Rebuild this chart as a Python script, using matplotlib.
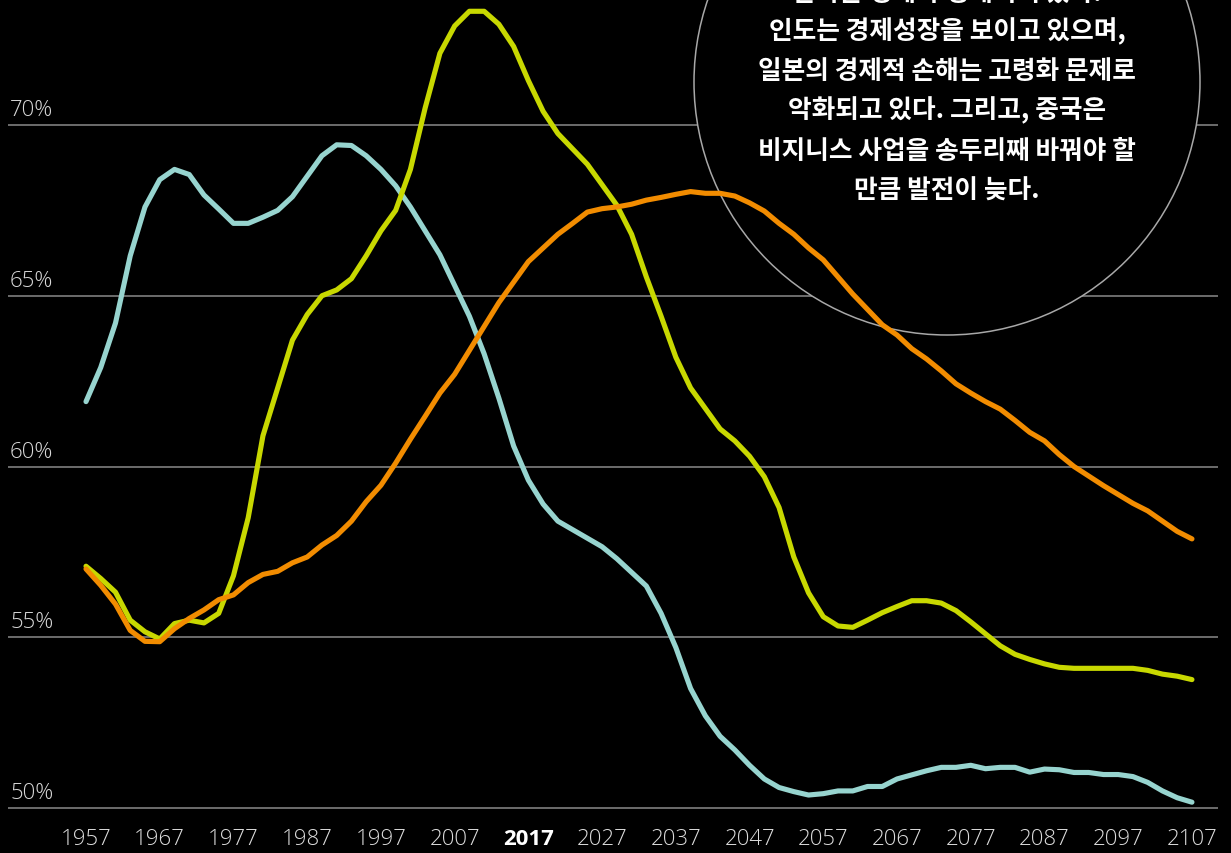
import matplotlib
matplotlib.use("Agg")
import matplotlib.pyplot as plt
from matplotlib.patches import Ellipse
import numpy as np

years = list(range(1957, 2108, 2))

japan = [61.9, 62.9, 64.2, 66.17, 67.6, 68.4, 68.7, 68.55, 67.95, 67.54,
         67.12, 67.12, 67.3, 67.5, 67.9, 68.5, 69.1, 69.42, 69.4, 69.1,
         68.7, 68.22, 67.6, 66.9, 66.2, 65.3, 64.4, 63.3, 62.0, 60.6,
         59.6, 58.9, 58.4, 58.15, 57.9, 57.65, 57.3, 56.9, 56.5, 55.7,
         54.7, 53.5, 52.7, 52.1, 51.7, 51.25, 50.85, 50.6, 50.48, 50.38,
         50.42, 50.5, 50.5, 50.63, 50.63, 50.85, 50.97, 51.09, 51.19, 51.19,
         51.25, 51.15, 51.19, 51.19, 51.05, 51.14, 51.12, 51.04, 51.04, 50.98,
         50.98, 50.92, 50.75, 50.5, 50.3, 50.17]

china = [57.08, 56.72, 56.32, 55.5, 55.16, 54.95, 55.4, 55.5, 55.42, 55.7,
         56.8, 58.5, 60.9, 62.3, 63.7, 64.45, 65.0, 65.17, 65.5, 66.17,
         66.9, 67.5, 68.7, 70.5, 72.1, 72.9, 73.33, 73.33, 72.95, 72.3,
         71.3, 70.4, 69.75, 69.3, 68.85, 68.25, 67.65, 66.8, 65.55, 64.4,
         63.2, 62.3, 61.7, 61.1, 60.75, 60.3, 59.7, 58.8, 57.35, 56.3,
         55.6, 55.33, 55.29, 55.5, 55.72, 55.9, 56.07, 56.07, 56.0, 55.78,
         55.45, 55.1, 54.75, 54.5, 54.35, 54.22, 54.12, 54.09, 54.09, 54.09,
         54.09, 54.09, 54.03, 53.92, 53.86, 53.76]

india = [57.0, 56.52, 55.97, 55.2, 54.88, 54.87, 55.25, 55.55, 55.8, 56.1,
         56.24, 56.6, 56.84, 56.93, 57.18, 57.35, 57.7, 57.98, 58.4, 58.97,
         59.45, 60.1, 60.8, 61.47, 62.15, 62.7, 63.4, 64.1, 64.8, 65.4,
         66.0, 66.4, 66.8, 67.12, 67.45, 67.55, 67.6, 67.68, 67.8, 67.88,
         67.97, 68.05, 68.0, 68.0, 67.92, 67.72, 67.48, 67.12, 66.8, 66.4,
         66.05, 65.55, 65.05, 64.6, 64.15, 63.85, 63.45, 63.15, 62.8, 62.42,
         62.15, 61.9, 61.68, 61.35, 61.0, 60.75, 60.35, 60.0, 59.72, 59.44,
         59.18, 58.92, 58.7, 58.4, 58.1, 57.88]

y_ticks = [50, 55, 60, 65, 70]
y_tick_labels = ["50%", "55%", "60%", "65%", "70%"]
x_ticks = list(range(1957, 2108, 10))
x_tick_labels = [str(y) for y in x_ticks]
highlight_year = 2017

note_lines = [
    "한국은 경제가 정체되어 있다.",
    "인도는 경제성장을 보이고 있으며,",
    "일본의 경제적 손해는 고령화 문제로",
    "악화되고 있다. 그리고, 중국은",
    "비지니스 사업을 송두리째 바꿔야 할",
    "만큼 발전이 늦다.",
]

W, H = 1231, 854
fig = plt.figure(figsize=(W / 100, H / 100), dpi=100, facecolor="black")
ax = fig.add_axes([8 / W, 0, 1210 / W, 1])
ax.set_facecolor("black")
ax.axis("off")

# pixel mapping helpers
px_per_year = 7.373
px_per_pct = 34.15
x0 = 1957 - 78 / px_per_year
x1 = 1957 + 1132 / px_per_year
ytop = 50 + 809 / px_per_pct
ybot = 50 - 45 / px_per_pct
ax.set_xlim(x0, x1)
ax.set_ylim(ybot, ytop)

num_font = ["Open Sans", "DejaVu Sans"]

for v, lab in zip(y_ticks, y_tick_labels):
    ax.axhline(v, color="#8a8a8a", lw=1.1, zorder=1)
    ax.text(x0 + 2 / px_per_year, v + 10 / px_per_pct, lab, color="#d8d8d8",
            fontsize=16, family=num_font, fontweight="light",
            ha="left", va="baseline", zorder=5)

for yr, lab in zip(x_ticks, x_tick_labels):
    bold = yr == highlight_year
    ax.text(yr, 50 - 36 / px_per_pct, lab,
            color="white" if bold else "#dcdcdc",
            fontsize=16, family=num_font,
            fontweight="bold" if bold else "light",
            ha="center", va="baseline", clip_on=False, zorder=5)

# circle annotation
cx = 1957 + (947 - 86) / px_per_year
cy = 50 + (809 - 83) / px_per_pct
circ = Ellipse((cx, cy), 2 * 253 / px_per_year, 2 * 253 / px_per_pct,
               facecolor="black", edgecolor="#a8a8a8", lw=1.1, zorder=2)
ax.add_patch(circ)

ax.plot(years, japan, color="#97d4cf", lw=3.7, zorder=3, solid_capstyle="round")
ax.plot(years, china, color="#c8d800", lw=3.7, zorder=3, solid_capstyle="round")
ax.plot(years, india, color="#f28c00", lw=3.7, zorder=3, solid_capstyle="round")

centers_px = [-6, 32, 71, 111, 151, 191]
for txt, cpx in zip(note_lines, centers_px):
    ax.text(cx, 50 + (809 - cpx) / px_per_pct, txt, color="white",
            fontsize=18.5, family=["Noto Sans CJK KR", "DejaVu Sans"],
            fontweight="bold", ha="center", va="center", zorder=6, clip_on=False)

fig.savefig("out.png", dpi=100, facecolor="black")
